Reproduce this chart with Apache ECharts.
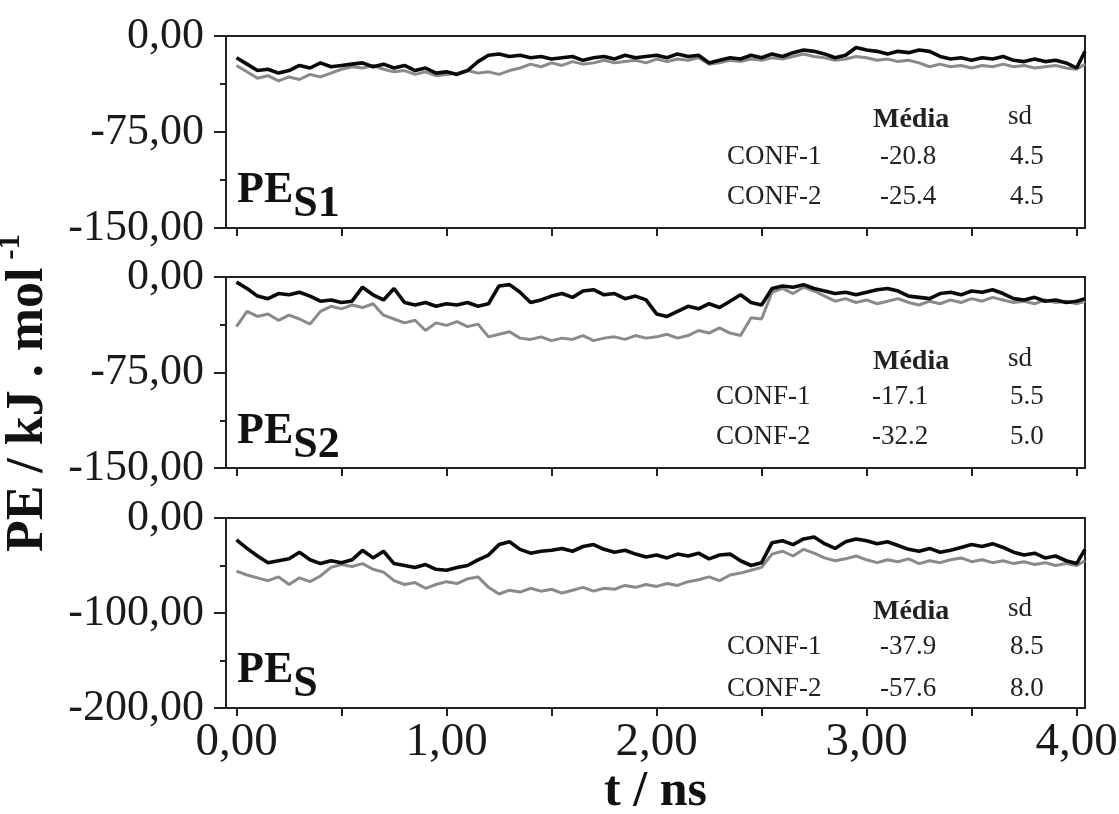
<!DOCTYPE html>
<html>
<head>
<meta charset="utf-8">
<script src="https://cdn.jsdelivr.net/npm/echarts@6/dist/echarts.min.js"></script>
<style>html,body{margin:0;padding:0;background:#fff}#c{width:1119px;height:814px}</style>
</head>
<body>
<div id="c"></div>
<script>
// time samples (ns)
const times = [0,0.05,0.1,0.15,0.2,0.25,0.3,0.35,0.4,0.45,0.5,0.55,0.6,0.65,0.7,0.75,0.8,0.85,0.9,0.95,
  1.0,1.05,1.1,1.15,1.2,1.25,1.3,1.35,1.4,1.45,1.5,1.55,1.6,1.65,1.7,1.75,1.8,1.85,1.9,1.95,
  2.0,2.05,2.1,2.15,2.2,2.25,2.3,2.35,2.4,2.45,2.5,2.55,2.6,2.65,2.7,2.75,2.8,2.85,2.9,2.95,
  3.0,3.05,3.1,3.15,3.2,3.25,3.3,3.35,3.4,3.45,3.5,3.55,3.6,3.65,3.7,3.75,3.8,3.85,3.9,3.95,4.0,4.04];

// PE_S1
const s1Conf1 = [-17,-22,-27,-26,-29,-27,-23,-25,-21,-24,-23,-22,-21,-24,-22,-25,-23,-27,-25,-29,
  -28,-30,-27,-20,-15,-14,-16,-15,-17,-16,-18,-17,-16,-19,-17,-16,-18,-15,-17,-16,
  -15,-17,-14,-16,-15,-21,-19,-17,-18,-15,-17,-14,-16,-13,-11,-12,-14,-17,-15,-9,
  -11,-12,-14,-12,-13,-11,-12,-16,-18,-17,-19,-17,-18,-16,-19,-20,-18,-20,-19,-21,-25,-12];
const s1Conf2 = [-23,-28,-33,-31,-35,-32,-34,-30,-32,-29,-26,-24,-25,-23,-26,-28,-27,-30,-28,-31,
  -30,-29,-27,-29,-28,-30,-27,-25,-22,-24,-21,-23,-20,-22,-21,-19,-21,-20,-19,-21,
  -18,-20,-18,-19,-17,-22,-21,-19,-20,-18,-19,-17,-18,-16,-14,-16,-17,-19,-18,-16,
  -17,-19,-18,-20,-19,-21,-24,-22,-24,-23,-25,-23,-24,-22,-24,-23,-25,-24,-23,-25,-26,-22];

// PE_S2
const s2Conf1 = [-4,-9,-15,-17,-13,-14,-12,-15,-19,-18,-20,-19,-8,-14,-18,-9,-20,-22,-20,-23,
  -21,-22,-20,-23,-21,-7,-6,-12,-20,-18,-15,-13,-16,-11,-10,-14,-13,-17,-15,-18,
  -29,-31,-27,-23,-25,-21,-24,-19,-14,-20,-22,-9,-7,-8,-6,-9,-11,-13,-12,-14,
  -12,-10,-9,-11,-15,-16,-17,-13,-12,-14,-11,-12,-10,-13,-17,-18,-16,-19,-18,-20,-19,-17];
const s2Conf2 = [-39,-27,-31,-29,-34,-30,-33,-37,-27,-23,-25,-22,-24,-21,-30,-33,-36,-34,-42,-36,
  -38,-35,-39,-37,-47,-45,-43,-48,-49,-47,-50,-48,-49,-46,-50,-48,-47,-49,-46,-48,
  -47,-45,-48,-46,-42,-44,-40,-44,-46,-32,-33,-12,-9,-13,-8,-11,-15,-19,-17,-20,
  -18,-21,-19,-17,-20,-22,-19,-21,-18,-20,-17,-19,-16,-18,-20,-19,-21,-18,-20,-19,-21,-19];

// PE_S
const sConf1 = [-23,-32,-40,-47,-45,-43,-36,-44,-48,-45,-47,-44,-34,-42,-35,-48,-50,-52,-49,-54,
  -55,-52,-50,-44,-39,-28,-25,-33,-37,-35,-34,-32,-35,-30,-28,-33,-36,-34,-38,-41,
  -39,-42,-38,-40,-37,-43,-39,-38,-45,-50,-47,-26,-24,-28,-22,-20,-27,-32,-25,-22,
  -24,-27,-25,-29,-33,-35,-32,-36,-34,-31,-28,-30,-27,-31,-36,-39,-37,-42,-40,-45,-48,-33];
const sConf2 = [-56,-60,-63,-66,-62,-70,-63,-67,-61,-52,-49,-51,-48,-54,-57,-66,-70,-68,-74,-70,
  -67,-69,-64,-62,-73,-80,-76,-78,-74,-77,-75,-79,-76,-73,-77,-74,-75,-71,-73,-70,
  -72,-69,-71,-67,-65,-62,-66,-60,-58,-55,-52,-38,-35,-40,-33,-37,-42,-45,-43,-40,
  -44,-47,-44,-46,-43,-48,-45,-47,-44,-42,-46,-44,-47,-45,-48,-46,-49,-47,-50,-48,-50,-45];

const panelNames = ['S1', 'S2', 'S'];
const yMins = [-150, -150, -200];
const yIntervals = [75, 75, 100];
const xTickValues = [0,0.5,1,1.5,2,2.5,3,3.5,4];
const xLabelValues = [0,1,2,3,4];
const confNames = ['CONF-1', 'CONF-2'];
const statMeans = [[-20.8, -25.4], [-17.1, -32.2], [-37.9, -57.6]];
const statSd = [[4.5, 4.5], [5.5, 5.0], [8.5, 8.0]];

const series = [[s1Conf1, s1Conf2], [s2Conf1, s2Conf2], [sConf1, sConf2]];

const FONT = '"Liberation Serif", "Times New Roman", serif';
const gridTops = [36, 277, 518];
const gridHeights = [192, 191, 190];
const rowOffsets = [[84, 121, 161], [85, 120, 160], [94, 129, 171]];
const labelOffsets = [132, 132, 130];
const fmt = v => v.toFixed(2).replace('.', ',');

const grids = [], xAxes = [], yAxes = [], seriesOpts = [], graphics = [];
for (let p = 0; p < 3; p++) {
  grids.push({left: 226, right: 34, top: gridTops[p], height: gridHeights[p], show: true,
    borderColor: '#222', borderWidth: 2, backgroundColor: 'transparent', outerBoundsMode: 'none'});
  xAxes.push({
    type: 'value', gridIndex: p, min: -0.05, max: 4.04,
    axisLine: {show: true, onZero: false, lineStyle: {color: '#222', width: 2}},
    axisTick: {show: true, inside: false, length: 8, customValues: xTickValues, lineStyle: {color: '#222', width: 2}},
    axisLabel: {show: p === 2, customValues: xLabelValues, formatter: fmt, fontFamily: FONT, fontSize: 47, color: '#1a1a1a', margin: 11},
    splitLine: {show: false},
    name: p === 2 ? 't / ns' : '', nameLocation: 'middle', nameGap: 57,
    nameTextStyle: {fontFamily: FONT, fontSize: 50, fontWeight: 'bold', color: '#111'}
  });
  yAxes.push({
    type: 'value', gridIndex: p, min: yMins[p], max: 0, interval: yIntervals[p],
    axisLine: {show: true, onZero: false, lineStyle: {color: '#222', width: 2}},
    axisTick: {show: true, inside: false, length: 12, lineStyle: {color: '#222', width: 2}},
    minorTick: {show: true, splitNumber: 2, length: 6, lineStyle: {color: '#222', width: 2}},
    axisLabel: {formatter: fmt, fontFamily: FONT, fontSize: 44, color: '#1a1a1a', margin: 22},
    splitLine: {show: false}, minorSplitLine: {show: false}
  });
  const colors = ['#0a0a0a', '#8a8a8a'];
  for (let s = 1; s >= 0; s--) {
    seriesOpts.push({
      type: 'line', xAxisIndex: p, yAxisIndex: p, showSymbol: false, silent: true,
      data: times.map((t, i) => [t, series[p][s][i]]),
      lineStyle: {color: colors[s], width: s === 0 ? 3.6 : 3},
      itemStyle: {color: colors[s]}, z: s === 0 ? 4 : 3
    });
  }
  // panel label PE_Sx
  graphics.push({type: 'text', left: 237, top: gridTops[p] + labelOffsets[p],
    style: {text: '{a|PE}{b|' + panelNames[p] + '}', rich: {
      a: {fontFamily: FONT, fontSize: 44, fontWeight: 'bold', fill: '#111', verticalAlign: 'top', lineHeight: 58},
      b: {fontFamily: FONT, fontSize: 44, fontWeight: 'bold', fill: '#111', verticalAlign: 'bottom', lineHeight: 58, padding: [15, 0, 0, 0]}
    }}});
  // stats table
  const tTop = gridTops[p];
  const rowY = rowOffsets[p];
  const colX = p === 1 ? [716, 872, 1010] : [727, 880, 1010];
  graphics.push({type: 'text', x: 873, y: tTop + rowY[0], style: {text: 'Média', font: 'bold 28px ' + FONT, fill: '#222', textVerticalAlign: 'middle'}});
  graphics.push({type: 'text', x: 1008, y: tTop + rowY[0] - 3, style: {text: 'sd', font: '27px ' + FONT, fill: '#222', textVerticalAlign: 'middle'}});
  for (let r = 0; r < 2; r++) {
    const y = tTop + rowY[r + 1];
    graphics.push({type: 'text', x: colX[0], y: y, style: {text: confNames[r], font: '27px ' + FONT, fill: '#222', textVerticalAlign: 'middle'}});
    graphics.push({type: 'text', x: colX[1], y: y, style: {text: statMeans[p][r].toFixed(1), font: '27px ' + FONT, fill: '#222', textVerticalAlign: 'middle'}});
    graphics.push({type: 'text', x: colX[2], y: y, style: {text: statSd[p][r].toFixed(1), font: '27px ' + FONT, fill: '#222', textVerticalAlign: 'middle'}});
  }
}
// y axis title
graphics.push({type: 'text', x: 25, y: 393, rotation: Math.PI / 2,
  style: {text: '{a|PE / kJ . mol}{b| -1}', textAlign: 'center', textVerticalAlign: 'middle', rich: {
    a: {fontFamily: FONT, fontSize: 52, fontWeight: 'bold', fill: '#111', verticalAlign: 'bottom', lineHeight: 60},
    b: {fontFamily: FONT, fontSize: 31, fontWeight: 'bold', fill: '#111', verticalAlign: 'top', lineHeight: 60}
  }}});

const chart = echarts.init(document.getElementById('c'), null, {renderer: 'canvas'});
chart.setOption({
  animation: false,
  backgroundColor: '#fff',
  grid: grids, xAxis: xAxes, yAxis: yAxes, series: seriesOpts, graphic: graphics
});
</script>
</body>
</html>
